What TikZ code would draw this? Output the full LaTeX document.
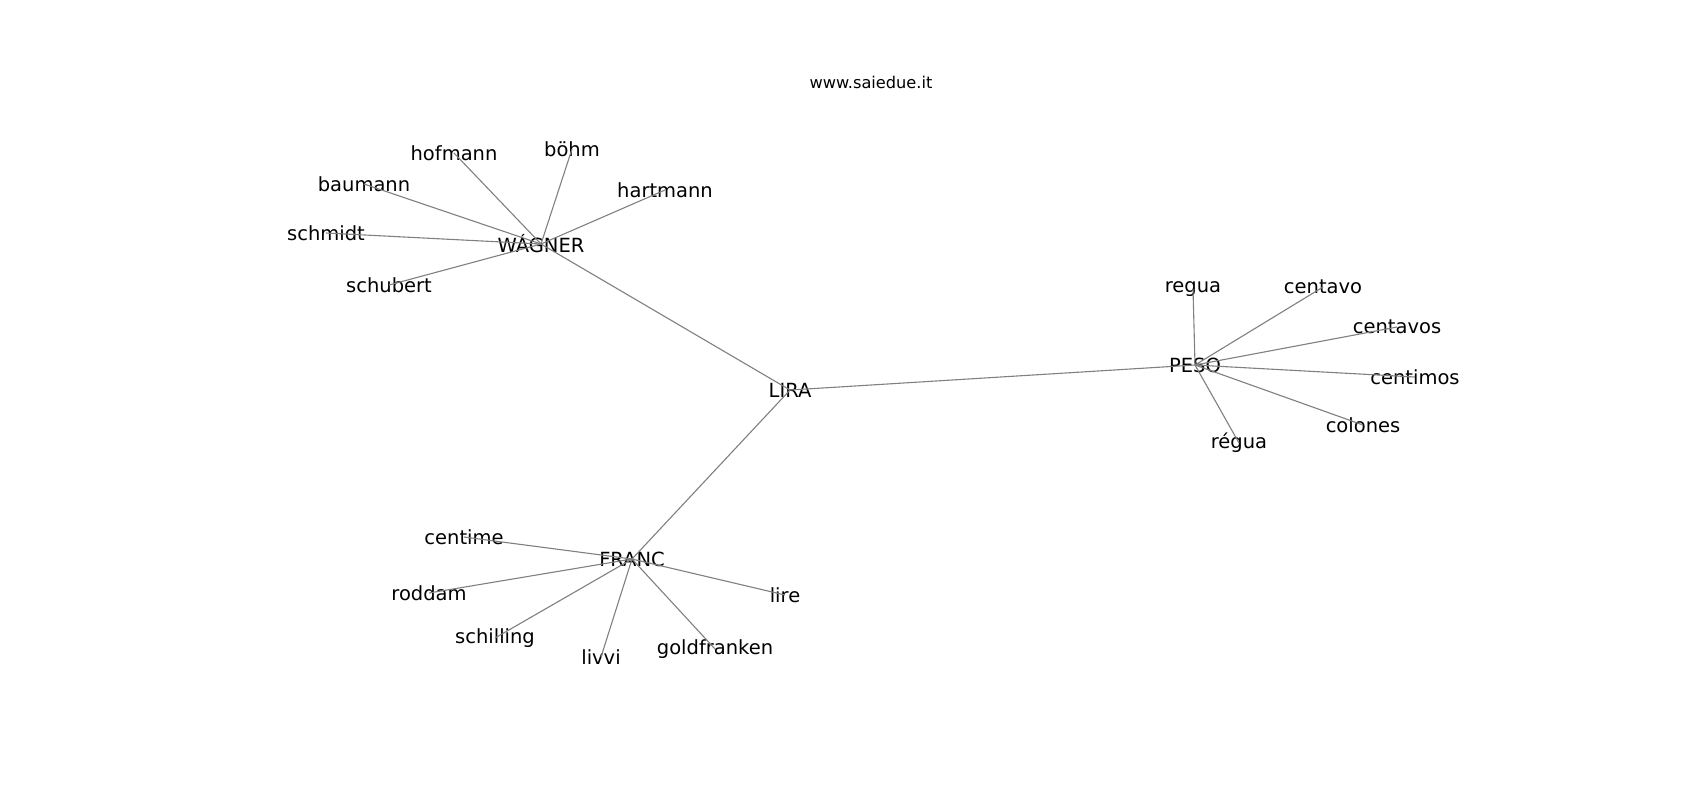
\documentclass[tikz,border=0pt]{standalone}
\usepackage{fontspec}
\setmainfont{DejaVu Sans}
\begin{document}
\begin{tikzpicture}[x=0.5pt,y=-0.5pt,
  lbl/.style={inner sep=0pt,anchor=center,font=\fontsize{9.75pt}{11pt}\selectfont},
  ttl/.style={inner sep=0pt,anchor=center,font=\fontsize{8.1pt}{10pt}\selectfont},
  edge/.style={draw={rgb,255:red,128;green,128;blue,128},line width=0.55pt}]
\fill[white] (0,0) rectangle (1700,800);
\useasboundingbox (0,0) rectangle (1700,800);
\node[ttl] (title) at (871,82) {www.saiedue.it};
% hubs
\node[lbl] (lira) at (790,390) {LIRA};
\node[lbl] (wagner) at (541,244) {WÁGNER};
\node[lbl] (peso) at (1195,365) {PESO};
\node[lbl] (franc) at (632,559) {FRANC};
% wagner leaves
\node[lbl] (hofmann) at (454,153) {hofmann};
\node[lbl] (bohm) at (572,149) {böhm};
\node[lbl] (hartmann) at (665,190) {hartmann};
\node[lbl] (baumann) at (364,184) {baumann};
\node[lbl] (schmidt) at (326,233) {schmidt};
\node[lbl] (schubert) at (389,285) {schubert};
% peso leaves
\node[lbl] (regua) at (1193,289) {regua};
\node[lbl] (centavo) at (1323,287) {centavo};
\node[lbl] (centavos) at (1397,327) {centavos};
\node[lbl] (centimos) at (1415,377) {centimos};
\node[lbl] (colones) at (1363,425) {colones};
\node[lbl] (regua2) at (1239,443) {régua};
% franc leaves
\node[lbl] (centime) at (464,537) {centime};
\node[lbl] (roddam) at (429,593) {roddam};
\node[lbl] (schilling) at (495,638) {schilling};
\node[lbl] (livvi) at (601,657) {livvi};
\node[lbl] (goldfranken) at (715,649) {goldfranken};
\node[lbl] (lire) at (785,595) {lire};
% edges
\foreach \a/\b in {lira/wagner,lira/peso,lira/franc,
  wagner/hofmann,wagner/bohm,wagner/hartmann,wagner/baumann,wagner/schmidt,wagner/schubert,
  peso/regua,peso/centavo,peso/centavos,peso/centimos,peso/colones,peso/regua2,
  franc/centime,franc/roddam,franc/schilling,franc/livvi,franc/goldfranken,franc/lire}
  \draw[edge] (\a.center) -- (\b.center);
\end{tikzpicture}
\end{document}
